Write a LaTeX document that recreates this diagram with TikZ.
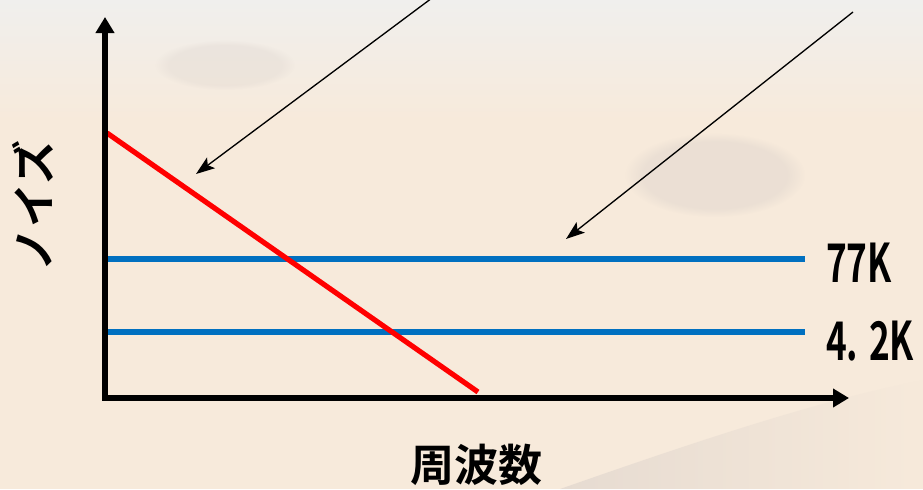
\documentclass[tikz,border=0pt]{standalone}
\usepackage{fontspec}
\newfontfamily\jpfont{Noto Sans CJK JP Bold}
\usetikzlibrary{arrows.meta,fadings}
\definecolor{bgtop}{HTML}{F0EFED}
\definecolor{bgmid}{HTML}{F7EADB}
\definecolor{sandgray}{HTML}{D6CDC8}
\definecolor{redline}{HTML}{FF0000}
\definecolor{blueline}{HTML}{0070C0}
\begin{document}
\begin{tikzpicture}[x=0.75pt,y=-0.75pt,
  axis/.style={line width=4pt,-{Triangle[length=12pt,width=13.5pt]}},
  pointer/.style={line width=1pt,-{Stealth[length=14pt,width=10pt,inset=3pt]}},
  curve/.style={line width=3.9pt,redline},
  level/.style={line width=4.5pt,blueline},
  lbl/.style={font=\jpfont\fontsize{40}{42}\selectfont,xscale=0.66,anchor=west,inner sep=0pt},
  cjk/.style={font=\jpfont\fontsize{33}{36}\selectfont,inner sep=0pt}]
% background
\useasboundingbox (0,0) rectangle (923,489);
\shade[top color=bgtop,bottom color=bgmid] (0,0) rectangle (923,120);
\fill[bgmid] (0,120) rectangle (923,489);
\fill[sandgray,path fading=circle with fuzzy edge 20 percent,opacity=0.35] (715,175) ellipse (90 and 42);
\fill[sandgray,path fading=circle with fuzzy edge 20 percent,opacity=0.25] (225,65) ellipse (70 and 25);
\fill[sandgray,path fading=east,opacity=0.5] (923,489) -- (560,489) .. controls (700,440) and (820,400) .. (923,380) -- cycle;
% coordinates
\coordinate (O) at (105,398);
\coordinate (ytip) at (105,17);
\coordinate (xtip) at (849,398);
\coordinate (r1) at (107,133);
\coordinate (r2) at (478,392);
\coordinate (b1s) at (105,259);
\coordinate (b1e) at (805,259);
\coordinate (b2s) at (105,332);
\coordinate (b2e) at (805,332);
\coordinate (p1s) at (432,-2);
\coordinate (p1e) at (196,174);
\coordinate (p2s) at (853,12);
\coordinate (p2e) at (566,239);
% lines
\draw[level] (b1s) -- (b1e);
\draw[level] (b2s) -- (b2e);
\draw[curve] (r1) -- (r2);
\draw[axis] ([yshift=-2pt]O) -- (ytip);
\draw[axis] ([xshift=-2pt]O) -- (xtip);
\draw[pointer] (p1s) -- (p1e);
\draw[pointer] (p2s) -- (p2e);
% labels
\node[lbl] (l77) at (826,263) {77K};
\node[lbl] (l42) at (826,341) {4. 2K};
\node[cjk] (xl) at (476,465) {周波数};
\node[cjk,rotate=90] (yl) at (33,206) {ノイズ};
\end{tikzpicture}
\end{document}
